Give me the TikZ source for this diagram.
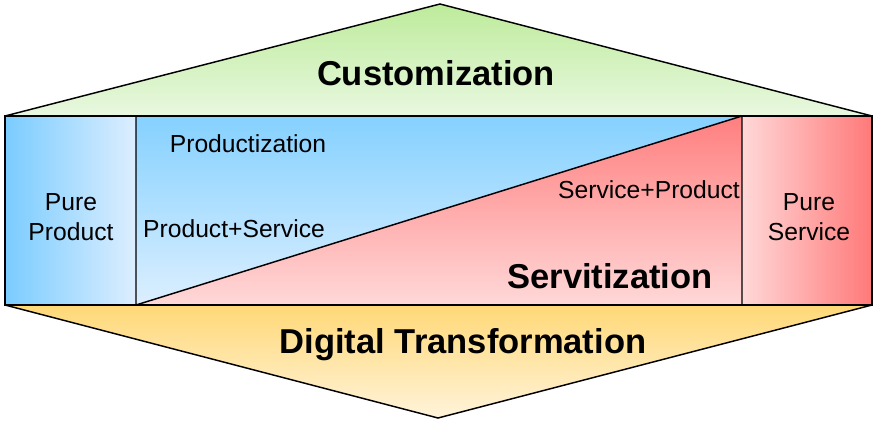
\documentclass[tikz,border=0pt]{standalone}
\usepackage{fontspec}
\setmainfont{Liberation Sans}
\usepackage{tikz}

\definecolor{custtop}{HTML}{BDEB9B}
\definecolor{custbot}{HTML}{E9F8E0}
\definecolor{prodleft}{HTML}{7ACCFF}
\definecolor{prodright}{HTML}{DDEEFF}
\definecolor{bluetop}{HTML}{85D1FF}
\definecolor{bluebot}{HTML}{DCEFFF}
\definecolor{redtop}{HTML}{FF7F7F}
\definecolor{redbot}{HTML}{FFD8D8}
\definecolor{digtop}{HTML}{FFD877}
\definecolor{digbot}{HTML}{FFF3DA}

\begin{document}
\begin{tikzpicture}[x=0.75pt,y=-0.75pt,line width=1.1pt,
	  big/.style={font=\fontsize{25.9}{30}\selectfont\bfseries, anchor=base},
	  small/.style={font=\fontsize{18.5}{22.5}\selectfont, anchor=base},
	  pure/.style={font=\fontsize{18.5}{22.5}\selectfont, align=center}]

	  \useasboundingbox (0,0) rectangle (875,421);

	  % corners of the band and the two arrow tips
	  \coordinate (top) at (440,4);
	  \coordinate (bot) at (438,418);
	  \coordinate (nw) at (5,116);
	  \coordinate (ne) at (872,116);
	  \coordinate (sw) at (5,305);
	  \coordinate (se) at (872,305);
	  \coordinate (lt) at (136,116);
	  \coordinate (lb) at (136,305);
	  \coordinate (rt) at (742,116);
	  \coordinate (rb) at (742,305);

	  % fills
	  \path[top color=custtop, bottom color=custbot] (nw) -- (top) -- (ne) -- cycle;
	  \path[top color=digtop, bottom color=digbot] (sw) -- (se) -- (bot) -- cycle;
	  \path[left color=prodleft, right color=prodright] (nw) rectangle (lb);
	  \path[top color=bluetop, bottom color=bluebot] (lt) -- (rt) -- (lb) -- cycle;
	  \path[top color=redtop, bottom color=redbot] (lb) -- (rt) -- (rb) -- cycle;
	  \path[left color=redbot, right color=redtop!95!red] (rt) rectangle (se);

	  % outlines
	  \draw (nw) -- (top) -- (ne);
	  \draw (sw) -- (bot) -- (se);
	  \draw (nw) rectangle (se);
	  \draw (lt) -- (lb) -- (rt) -- (rb);

	  % labels
	  \node[big] (cust) at (436,85) {Customization};
	  \node[small] (prodz) at (248,152) {Productization};
	  \node[small] (prodserv) at (234,237) {Product+Service};
	  \node[small] (servprod) at (649,198) {Service+Product};
	  \node[pure] (pureprod) at (71,217) {Pure\\Product};
	  \node[pure] (pureserv) at (809,217) {Pure\\Service};
	  \node[big] (servz) at (610,288) {Servitization};
	  \node[big] (digital) at (463,353) {Digital Transformation};
	\end{tikzpicture}
\end{document}
